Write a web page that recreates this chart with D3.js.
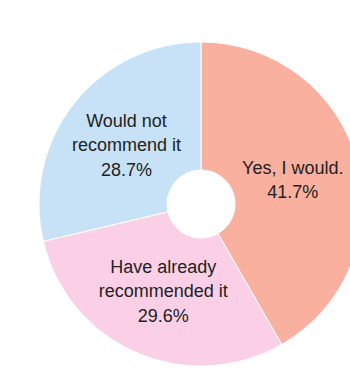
<!DOCTYPE html>
<html>
<head>
<meta charset="utf-8">
<script src="https://cdn.jsdelivr.net/npm/d3@7"></script>
<style>
  body { margin: 0; background: #fff; }
  svg { display: block; }
</style>
</head>
<body>
<div id="chart"></div>
<script>
// Les données du graphique
let labels = [["Yes, I would."], ["Have already", "recommended it"], ["Would not", "recommend it"]];
let values = [41.7, 29.6, 28.7];
let colors = ["#f9b09f", "#fbd0e7", "#c7e2f6"];

let width = 350, height = 370;
let cx = 201, cy = 204;
let outerR = 162, innerR = 34, labelR = 95;

let svg = d3.select("#chart")
  .append("svg")
  .attr("width", width)
  .attr("height", height)
  .append("g")
  .attr("transform", "translate(" + cx + "," + cy + ")");

// On garde l'ordre des tranches, sens horaire depuis midi
let pie = d3.pie().sort(null).value(function(d) { return d; });
let arcs = pie(values);

let arc = d3.arc().innerRadius(innerR).outerRadius(outerR);
let labelArc = d3.arc().innerRadius(labelR).outerRadius(labelR);

svg.append("g")
  .selectAll("path")
  .data(arcs)
  .enter()
  .append("path")
  .attr("d", arc)
  .attr("fill", function(d, i) { return colors[i]; })
  .attr("stroke", "#fff")
  .attr("stroke-width", 1);

let lineH = 24.5;
let texts = svg.append("g")
  .selectAll("text")
  .data(arcs)
  .enter()
  .append("text")
  .attr("text-anchor", "middle")
  .attr("font-family", "'Liberation Sans', Arial, sans-serif")
  .attr("font-size", 18)
  .attr("fill", "#222")
  .attr("transform", function(d) {
    let c = labelArc.centroid(d);
    return "translate(" + c[0] + "," + c[1] + ")";
  });

texts.each(function(d, i) {
  let lines = labels[i].concat([d3.format(".1f")(values[i]) + "%"]);
  let t = d3.select(this);
  let y0 = -(lines.length - 1) * lineH / 2;
  lines.forEach(function(l, k) {
    t.append("tspan")
      .attr("x", 0)
      .attr("y", y0 + k * lineH)
      .attr("dy", "0.35em")
      .text(l);
  });
});
</script>
</body>
</html>
